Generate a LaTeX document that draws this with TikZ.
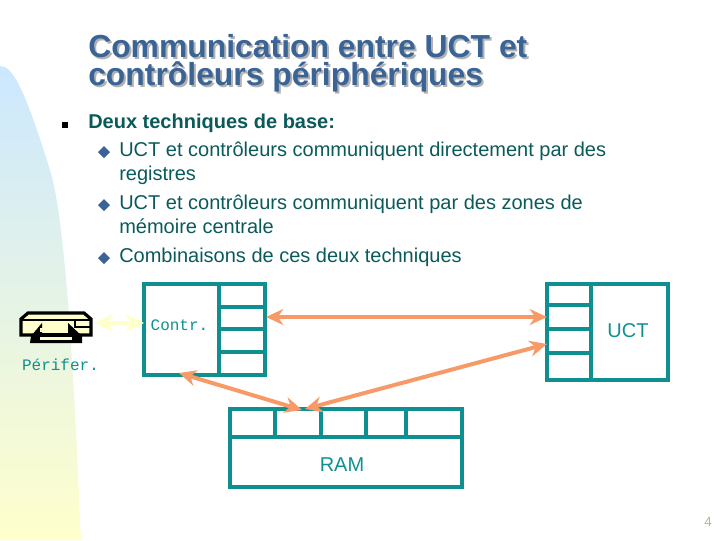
\documentclass[tikz,border=0pt]{standalone}
\usepackage{fontspec}
\setmainfont{Liberation Sans}
\setmonofont{Liberation Mono}
\usetikzlibrary{arrows.meta}
\definecolor{boxteal}{HTML}{0F9090}
\definecolor{arroworange}{HTML}{F79A68}
\definecolor{titleblue}{HTML}{3B6496}
\definecolor{bodygreen}{HTML}{0B5A5A}
\definecolor{paleyellow}{HTML}{FFFFCC}
\definecolor{paleblue}{HTML}{CCE8FF}
\definecolor{pagetan}{HTML}{C4AC96}
\tikzset{
	boxline/.style={draw=boxteal,line width=2.4pt},
	link/.style={{Stealth[length=13pt,width=12pt]}-{Stealth[length=13pt,width=12pt]},color=arroworange,line width=3pt},
	bodytext/.style={anchor=base west,inner sep=0pt,text=bodygreen,font=\fontsize{15}{17}\selectfont},
	titletext/.style={anchor=base west,inner sep=0pt,font=\fontsize{23.9}{26}\selectfont\bfseries},
	diamondmark/.style={fill=titleblue,draw=none},
}
\begin{document}
\begin{tikzpicture}[x=0.75pt,y=-0.75pt]
	\useasboundingbox (0,0) rectangle (720,540);
	% background swoosh
	\shade[top color=paleblue,bottom color=paleyellow,shading angle=0] (0,540) -- (0,66) .. controls (12,66) and (24,86) .. (50,170) .. controls (66,222) and (74,380) .. (81,540) -- cycle;
	% title
	\node[titletext,text=gray!60] (titleshadowa) at (90,59) {Communication entre UCT et};
	\node[titletext,text=gray!60] (titleshadowb) at (90,87) {contrôleurs périphériques};
	\node[titletext,text=titleblue] (titlea) at (88,57) {Communication entre UCT et};
	\node[titletext,text=titleblue] (titleb) at (88,85) {contrôleurs périphériques};
	% text
	\node[fill=black,inner sep=0pt,minimum size=4.5pt] (bullet) at (65,125) {};
	\node[bodytext,font=\fontsize{15}{17}\selectfont\bfseries] (lineone) at (88,128) {Deux techniques de base:};
	\node[bodytext] (linetwo) at (119,156) {UCT et contrôleurs communiquent directement par des};
	\node[bodytext] (linethree) at (119,180) {registres};
	\node[bodytext] (linefour) at (119,209) {UCT et contrôleurs communiquent par des zones de};
	\node[bodytext] (linefive) at (119,233) {mémoire centrale};
	\node[bodytext] (linesix) at (119,262) {Combinaisons de ces deux techniques};
	\foreach \y in {152,205,258}{
		\fill[diamondmark] (98,\y) -- (104,\y-6) -- (110,\y) -- (104,\y+6) -- cycle;
	}
	% controleur
	\draw[boxline] (144,284) rectangle (265,375);
	\draw[boxline] (219,284) -- (219,375);
	\foreach \y in {307,329,352}{
		\draw[boxline] (219,\y) -- (265,\y);
	}
	\node[inner sep=0pt,text=boxteal,font=\ttfamily\fontsize{12}{14}\selectfont] (contr) at (179.5,325) {Contr.};
	% UCT
	\draw[boxline] (547,284) rectangle (668,380);
	\draw[boxline] (591,284) -- (591,380);
	\foreach \y in {305,329,353}{
		\draw[boxline] (547,\y) -- (591,\y);
	}
	\node[inner sep=0pt,text=boxteal,font=\fontsize{15}{17}\selectfont] (uct) at (628,331) {UCT};
	% RAM
	\draw[boxline] (230,409) rectangle (462,487);
	\draw[boxline] (230,437) -- (462,437);
	\foreach \x in {275,321,366,406}{
		\draw[boxline] (\x,409) -- (\x,437);
	}
	\node[inner sep=0pt,text=boxteal,font=\fontsize{15}{17}\selectfont] (ram) at (342,465) {RAM};
	% printer
	\draw[fill=paleyellow,line width=2.4pt,line join=miter] (21,319) -- (28,313) -- (84,313) -- (91,319) -- (91,335) -- (21,335) -- cycle;
	\draw[line width=2.2pt] (21,320) -- (91,320);
	\draw[line width=2.2pt] (75,320) -- (75,327) -- (91,327);
	\fill[black] (30,343) -- (31,336) -- (42,323) -- (42,333) -- (68,333) -- (68,323) -- (82,336) -- (82,343) -- cycle;
	\fill[paleyellow] (40,328) rectangle (68,332);
	\fill[paleyellow] (40,337) rectangle (72,340);
	\node[inner sep=0pt,text=boxteal,font=\ttfamily\fontsize{12}{14}\selectfont] (perif) at (60.5,365) {Périfer.};
	% links
	\coordinate (contrport) at (144,323);
	\coordinate (perifport) at (95,323);
	\coordinate (regone) at (266,317);
	\coordinate (regtwo) at (547,317);
	\coordinate (regthree) at (547,344);
	\coordinate (contrbase) at (179,373);
	\coordinate (ramleft) at (302,410);
	\coordinate (ramright) at (305,409);
	\draw[{Stealth[length=14pt,width=14pt]}-{Stealth[length=14pt,width=14pt]},color=paleyellow,line width=3.5pt] (perifport) -- (contrport);
	\draw[link] (regone) -- (regtwo);
	\draw[link] (contrbase) -- (ramleft);
	\draw[link] (regthree) -- (ramright);
	\node[inner sep=0pt,text=pagetan,font=\fontsize{10}{12}\selectfont] (pagenum) at (708,522) {4};
\end{tikzpicture}
\end{document}
